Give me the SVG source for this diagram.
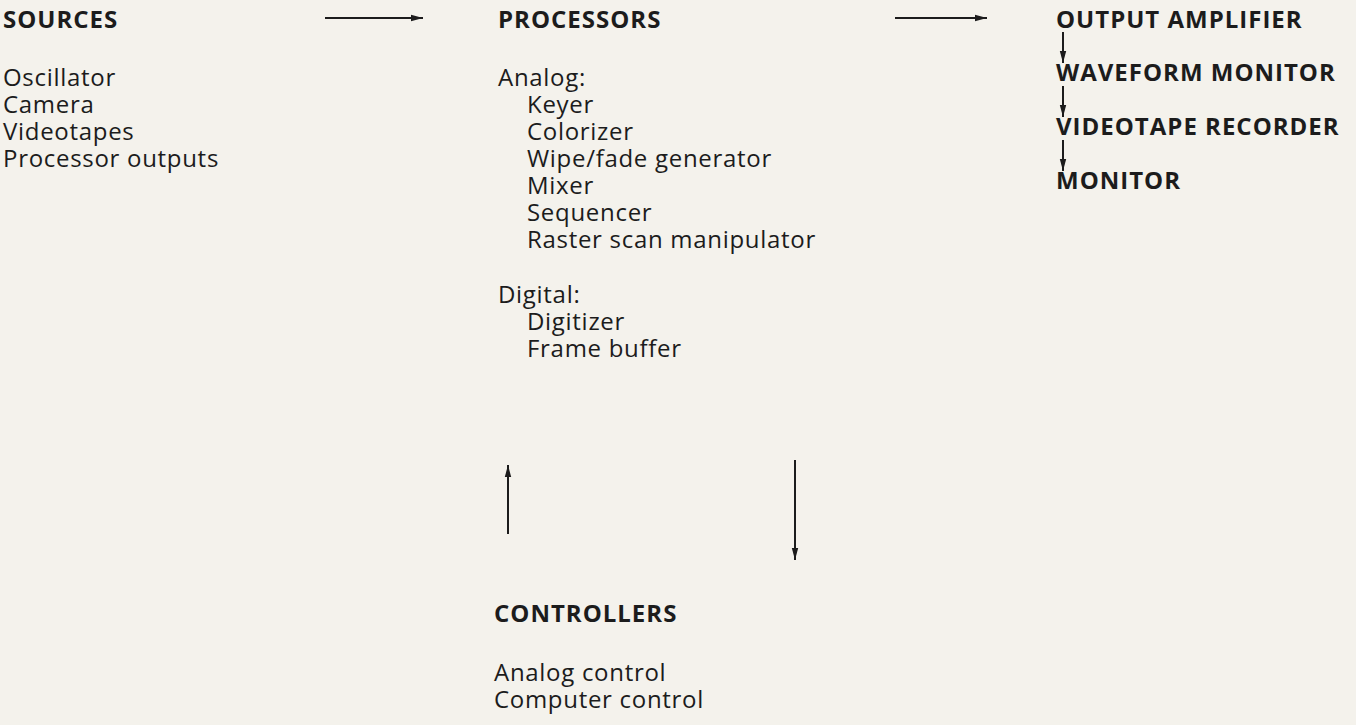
<svg xmlns="http://www.w3.org/2000/svg" width="1356" height="725" viewBox="0 0 1356 725">
<defs>
<style>
text{font-family:"Open Sans","Noto Sans","DejaVu Sans",sans-serif;font-size:24px;fill:#1c1c1c;letter-spacing:0.7px}
.h{font-weight:bold;letter-spacing:1px}
.c{stroke:#1c1c1c;stroke-width:2;fill:none}
</style>
<marker id="ah" viewBox="0 0 12 8" refX="12" refY="4" markerWidth="12" markerHeight="8" markerUnits="userSpaceOnUse" orient="auto">
<path d="M0,0.8 L12,4 L0,7.2 Z" fill="#1c1c1c"/>
</marker>
</defs>
<rect width="1356" height="725" fill="#f4f2ec"/>
<g id="sources">
<text class="h" x="3" y="28">SOURCES</text>
<text x="3" y="86">Oscillator</text>
<text x="3" y="113">Camera</text>
<text x="3" y="140">Videotapes</text>
<text x="3" y="167">Processor outputs</text>
</g>
<g id="processors">
<text class="h" x="498" y="28">PROCESSORS</text>
<text x="498" y="86">Analog:</text>
<text x="527" y="113">Keyer</text>
<text x="527" y="140">Colorizer</text>
<text x="527" y="167">Wipe/fade generator</text>
<text x="527" y="194">Mixer</text>
<text x="527" y="221">Sequencer</text>
<text x="527" y="248">Raster scan manipulator</text>
<text x="498" y="303">Digital:</text>
<text x="527" y="330">Digitizer</text>
<text x="527" y="357">Frame buffer</text>
</g>
<g id="controllers">
<text class="h" x="494" y="622">CONTROLLERS</text>
<text x="494" y="681">Analog control</text>
<text x="494" y="708">Computer control</text>
</g>
<g id="output-amplifier"><text class="h" x="1056" y="28">OUTPUT AMPLIFIER</text></g>
<g id="waveform-monitor"><text class="h" x="1056" y="81">WAVEFORM MONITOR</text></g>
<g id="videotape-recorder"><text class="h" x="1056" y="135">VIDEOTAPE RECORDER</text></g>
<g id="monitor"><text class="h" x="1056" y="189">MONITOR</text></g>
<g id="connectors">
<line class="c" x1="325" y1="18" x2="423" y2="18" marker-end="url(#ah)"/>
<line class="c" x1="895" y1="18" x2="987" y2="18" marker-end="url(#ah)"/>
<line class="c" x1="1063" y1="32" x2="1063" y2="63" marker-end="url(#ah)"/>
<line class="c" x1="1063" y1="86" x2="1063" y2="117" marker-end="url(#ah)"/>
<line class="c" x1="1063" y1="140" x2="1063" y2="171" marker-end="url(#ah)"/>
<line class="c" x1="508" y1="534" x2="508" y2="465" marker-end="url(#ah)"/>
<line class="c" x1="795" y1="460" x2="795" y2="560" marker-end="url(#ah)"/>
</g>
</svg>
